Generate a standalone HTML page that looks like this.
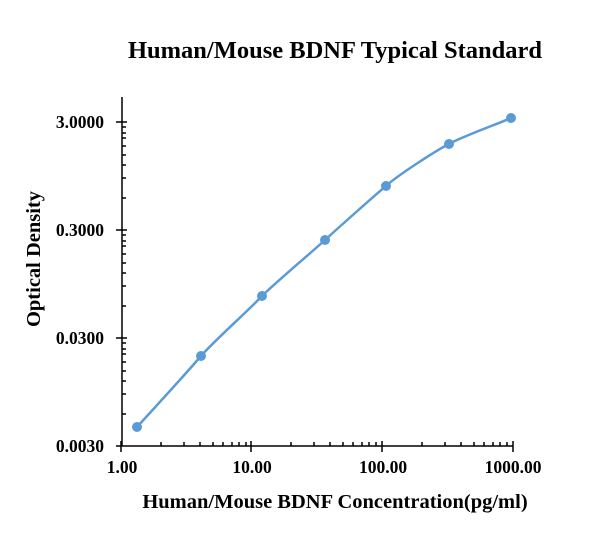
<!DOCTYPE html>
<html><head><style>body{margin:0;background:#fff}svg{display:block}</style></head><body>
<svg width="602" height="557" xmlns="http://www.w3.org/2000/svg" font-family="Liberation Serif, serif" font-weight="bold">
<text x="335" y="58" font-size="24.5" text-anchor="middle">Human/Mouse BDNF Typical Standard</text>
<g stroke="#000" stroke-width="1.5" fill="none">
<line x1="122" y1="97" x2="122" y2="446"/>
<line x1="121" y1="446" x2="513" y2="446"/>
<path d="M116 122H127M116 230H127M116 338H127M116 446H122M121 441V452M251 441V452M382 441V452M513 441V452"/>
<g id="ym">
<path d="M122 127H126M122 133H126M122 138H126M122 146H126M122 155H126M122 165H126M122 178H126M122 198H126"/>
</g>
<use href="#ym" y="108"/><use href="#ym" y="216"/>
<g id="xm"><path d="M161 446V442M184 446V442M200 446V442M213 446V442M223 446V442M232 446V442M239 446V442M246 446V442"/></g>
<use href="#xm" x="130"/><use href="#xm" x="261"/>
</g>
<g font-size="17.5" text-anchor="end">
<text x="104" y="128">3.0000</text><text x="104" y="236">0.3000</text>
<text x="104" y="344">0.0300</text><text x="104" y="452">0.0030</text>
</g>
<g font-size="17.5" text-anchor="middle">
<text x="122" y="473">1.00</text><text x="252" y="473">10.00</text>
<text x="383" y="473">100.00</text><text x="513" y="473">1000.00</text>
</g>
<text x="335" y="508" font-size="20.5" text-anchor="middle">Human/Mouse BDNF  Concentration(pg/ml)</text>
<text transform="translate(40,259) rotate(-90)" font-size="20.5" text-anchor="middle">Optical Density</text>
<path d="M137 427 C148 415 189 370 201 356 C212 343 250 309 262 296 C274 284 313 251 325 240 C337 229 374 196 386 186 C398 175 437 150 449 144 C461 137 500 123 511 118" fill="none" stroke="#5b9bd5" stroke-width="2.5"/>
<g fill="#5b9bd5">
<circle cx="137" cy="427" r="5"/><circle cx="201" cy="356" r="5"/><circle cx="262" cy="296" r="5"/>
<circle cx="325" cy="240" r="5"/><circle cx="386" cy="186" r="5"/><circle cx="449" cy="144" r="5"/><circle cx="511" cy="118" r="5"/>
</g>
</svg>
</body></html>
